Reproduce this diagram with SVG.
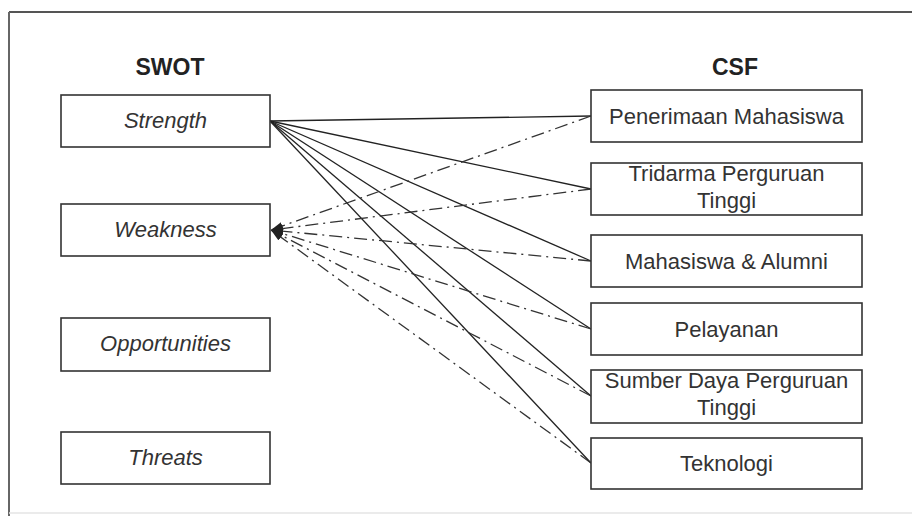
<svg xmlns="http://www.w3.org/2000/svg" width="912" height="516" viewBox="0 0 912 516">
<defs>
<style>
.box{fill:#fff;stroke:#333;stroke-width:1.6}
.lt{font-family:"Liberation Sans",Arial,sans-serif;font-size:22px;font-style:italic;fill:#333;text-anchor:middle}
.rt{font-family:"Liberation Sans",Arial,sans-serif;font-size:22px;fill:#333;text-anchor:middle}
.hd{font-family:"Liberation Sans",Arial,sans-serif;font-size:23px;font-weight:bold;fill:#222;text-anchor:middle}
.solid{fill:none;stroke:#222;stroke-width:1.3}
.dd{fill:none;stroke:#333;stroke-width:1.3;stroke-dasharray:13 5 2 5}
</style>
<marker id="arr" viewBox="0 0 12 8" refX="12" refY="4" markerWidth="12" markerHeight="8" markerUnits="userSpaceOnUse" orient="auto">
<path d="M0,0 L12,4 L0,8 z" fill="#222"/>
</marker>
</defs>
<rect x="0" y="0" width="912" height="516" fill="#fff"/>
<g id="frame">
<line x1="9" y1="12" x2="912" y2="12" stroke="#555" stroke-width="2"/>
<line x1="9" y1="12" x2="9" y2="516" stroke="#666" stroke-width="2"/>
<line x1="9" y1="513" x2="912" y2="513" stroke="#e4e4e4" stroke-width="1.5"/>
</g>
<g id="headers">
<text class="hd" x="170" y="75">SWOT</text>
<text class="hd" x="735" y="75">CSF</text>
</g>
<g id="connectors">
<path class="solid" d="M270,121 L591,116"/>
<path class="solid" d="M270,121 L591,189"/>
<path class="solid" d="M270,121 L591,261"/>
<path class="solid" d="M270,121 L591,329"/>
<path class="solid" d="M270,121 L591,396"/>
<path class="solid" d="M270,121 L591,463"/>
<path class="dd" d="M591,116 L271,230" marker-end="url(#arr)"/>
<path class="dd" d="M591,189 L271,230" marker-end="url(#arr)"/>
<path class="dd" d="M591,261 L271,230" marker-end="url(#arr)"/>
<path class="dd" d="M591,329 L271,230" marker-end="url(#arr)"/>
<path class="dd" d="M591,396 L271,230" marker-end="url(#arr)"/>
<path class="dd" d="M591,463 L271,230" marker-end="url(#arr)"/>
</g>
<g id="strength"><rect class="box" x="61" y="95" width="209" height="52"/><text class="lt" x="165.5" y="128">Strength</text></g>
<g id="weakness"><rect class="box" x="61" y="204" width="209" height="52"/><text class="lt" x="165.5" y="237">Weakness</text></g>
<g id="opportunities"><rect class="box" x="61" y="318" width="209" height="53"/><text class="lt" x="165.5" y="351">Opportunities</text></g>
<g id="threats"><rect class="box" x="61" y="432" width="209" height="52"/><text class="lt" x="165.5" y="465">Threats</text></g>
<g id="penerimaan"><rect class="box" x="591" y="90" width="271" height="52"/><text class="rt" x="726.5" y="124">Penerimaan Mahasiswa</text></g>
<g id="tridarma"><rect class="box" x="591" y="163" width="271" height="52"/><text class="rt" x="726.5" y="181">Tridarma Perguruan</text><text class="rt" x="726.5" y="208">Tinggi</text></g>
<g id="mahasiswa"><rect class="box" x="591" y="235" width="271" height="52"/><text class="rt" x="726.5" y="269">Mahasiswa &amp; Alumni</text></g>
<g id="pelayanan"><rect class="box" x="591" y="303" width="271" height="52"/><text class="rt" x="726.5" y="337">Pelayanan</text></g>
<g id="sumber"><rect class="box" x="591" y="370" width="271" height="53"/><text class="rt" x="726.5" y="388">Sumber Daya Perguruan</text><text class="rt" x="726.5" y="415">Tinggi</text></g>
<g id="teknologi"><rect class="box" x="591" y="438" width="271" height="51"/><text class="rt" x="726.5" y="471">Teknologi</text></g>
</svg>
